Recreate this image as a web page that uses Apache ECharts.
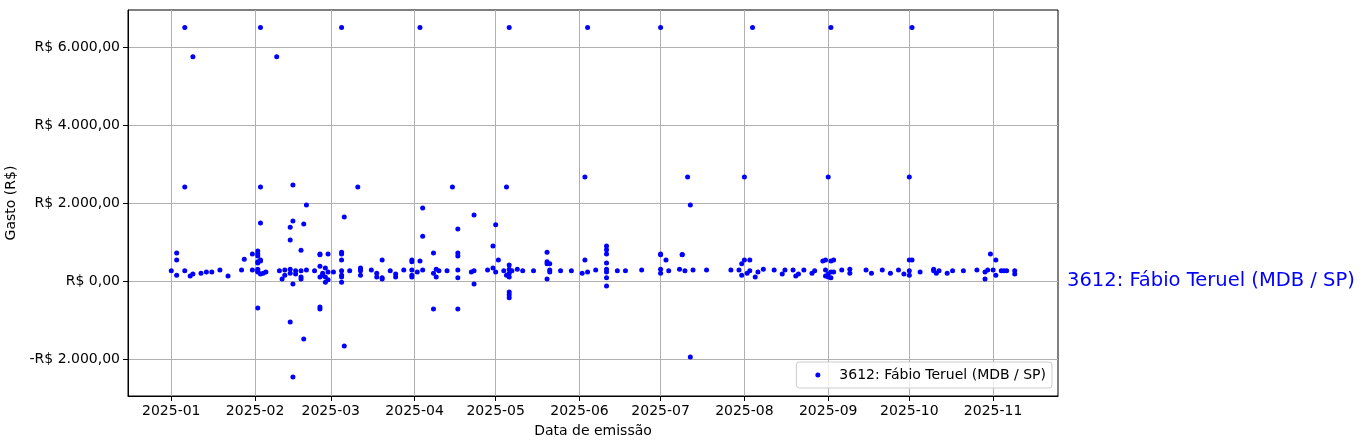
<!DOCTYPE html>
<html>
<head>
<meta charset="utf-8">
<script src="https://cdn.jsdelivr.net/npm/echarts@6/dist/echarts.min.js"></script>
<style>html,body{margin:0;padding:0;background:#fff}#c{width:1364px;height:448px}</style>
</head>
<body>
<div id="c"></div>
<script>
const serieNome = '3612: Fábio Teruel (MDB / SP)';
const xTickLabels = ['2025-01','2025-02','2025-03','2025-04','2025-05','2025-06','2025-07','2025-08','2025-09','2025-10','2025-11'];
const yTickValues = [-2000, 0, 2000, 4000, 6000];
const xRange = ['2024-12-16', '2025-11-25'];
const yRange = [-2950, 6950];

// [day of month, value R$] per month of 2025
const jan = [[1,260],[3,720],[3,540],[3,150],[6,6500],[6,2410],[6,260],[8,130],[9,180],[9,5750],[12,200],[14,230],[16,230],[19,280],[22,130],[27,280],[28,560],[31,690],[31,280]];
const fev = [[2,770],[2,690],[2,640],[2,490],[2,460],[2,300],[2,250],[2,230],[2,-690],[3,6500],[3,2410],[3,1490],[3,540],[3,510],[3,180],[4,200],[5,230],[9,5750],[10,260],[11,50],[12,280],[12,150],[14,1380],[14,1050],[14,300],[14,200],[14,-1050],[15,2460],[15,1540],[15,-80],[15,-2460],[16,260],[16,180],[18,790],[18,260],[18,100],[18,50],[19,1460],[19,-1490],[20,1950],[20,280],[23,260],[25,690],[25,670],[25,380],[25,100],[25,-670],[25,-720],[26,200],[26,150],[27,330],[27,100],[27,-30],[28,690],[28,230],[28,30]];
const mar = [[2,230],[5,6500],[5,740],[5,690],[5,540],[5,260],[5,150],[5,100],[5,-30],[6,1640],[6,-1670],[8,260],[11,2410],[12,330],[12,300],[12,260],[12,150],[16,280],[18,200],[18,100],[20,540],[20,80],[20,50],[23,260],[25,100],[25,180],[28,280],[31,490],[31,540],[31,280],[31,150],[31,100]];
const abr = [[2,230],[3,6500],[3,510],[4,1870],[4,1150],[4,280],[8,720],[8,200],[8,-720],[9,300],[9,100],[10,260],[13,260],[15,2410],[17,1330],[17,720],[17,640],[17,280],[17,80],[17,-720],[22,230],[23,1690],[23,260],[23,-80],[28,280],[30,900],[30,330]];
const mai = [[1,1440],[1,230],[2,540],[4,260],[5,2410],[5,150],[6,6500],[6,410],[6,300],[6,200],[6,100],[6,-280],[6,-350],[6,-430],[7,260],[9,300],[11,260],[15,260],[20,740],[20,490],[20,440],[20,50],[21,440],[21,280],[21,230],[25,260],[29,260]];
const jun = [[2,200],[3,2670],[3,540],[4,6500],[4,230],[7,280],[11,900],[11,800],[11,690],[11,460],[11,300],[11,230],[11,80],[11,-130],[15,260],[18,260],[24,280]];
const jul = [[1,6500],[1,690],[1,670],[1,300],[1,200],[3,540],[4,260],[8,300],[9,670],[9,680],[10,260],[11,2670],[12,1950],[12,-1950],[13,280],[18,280],[27,280],[30,280],[31,440],[31,150]];
const ago = [[1,2670],[1,540],[2,200],[3,540],[3,260],[4,6500],[5,100],[6,230],[8,300],[12,280],[15,180],[16,280],[19,280],[20,130],[21,180],[23,280],[26,200],[27,260],[30,510],[31,540],[31,280],[31,130]];
const set = [[1,2670],[1,100],[1,180],[2,6500],[2,230],[2,80],[2,510],[3,540],[3,230],[6,280],[9,300],[9,200],[15,280],[17,200],[21,280],[24,200],[27,280],[29,180]];
const out = [[1,2670],[1,540],[1,260],[1,150],[2,6500],[2,540],[5,230],[10,300],[10,260],[11,200],[12,260],[15,200],[17,260],[21,260],[26,280],[29,230],[29,50],[30,280],[31,690]];
const nov = [[1,280],[2,540],[2,150],[4,260],[5,260],[6,260],[9,260],[9,180]];

const meses = [jan, fev, mar, abr, mai, jun, jul, ago, set, out, nov];
const data = [];
meses.forEach((m, i) => m.forEach(([d, v]) => data.push([Date.UTC(2025, i, d), v])));

const toTs = s => Date.parse(s + 'T00:00:00Z');
const xTickValues = xTickLabels.map(s => toTs(s + '-01'));

function brl(v) {
  const a = Math.abs(v).toFixed(2).split('.');
  const intp = a[0].replace(/\B(?=(\d{3})+(?!\d))/g, '.');
  return (v < 0 ? '-' : '') + 'R$ ' + intp + ',' + a[1];
}
function ym(v) {
  const d = new Date(v);
  return d.getUTCFullYear() + '-' + String(d.getUTCMonth() + 1).padStart(2, '0');
}

const FONT = 'DejaVu Sans';
const chart = echarts.init(document.getElementById('c'), null, {renderer: 'canvas'});
const option = {
  animation: false,
  backgroundColor: '#fff',
  textStyle: {fontFamily: FONT},
  grid: {left: 128, right: 306, top: 10, bottom: 52, show: true, borderColor: '#000', borderWidth: 1, backgroundColor: 'transparent', containLabel: false, outerBoundsMode: 'none'},
  legend: {
    right: 312, bottom: 60,
    orient: 'horizontal',
    padding: [6, 6, 6, 19],
    itemWidth: 33, itemHeight: 5, itemGap: 0,
    icon: 'circle',
    borderColor: '#cccccc', borderWidth: 1, borderRadius: 3,
    backgroundColor: 'rgba(255,255,255,0.8)',
    textStyle: {fontFamily: FONT, fontSize: 14, color: '#000'},
    data: [serieNome]
  },
  xAxis: {
    type: 'value',
    min: toTs(xRange[0]), max: toTs(xRange[1]),
    name: 'Data de emissão', nameLocation: 'middle', nameGap: 28,
    nameTextStyle: {fontFamily: FONT, fontSize: 14, color: '#000'},
    axisLine: {show: true, onZero: false, lineStyle: {color: '#000', width: 1}},
    axisTick: {show: true, length: 5, lineStyle: {color: '#000'}, customValues: xTickValues},
    axisLabel: {show: true, customValues: xTickValues, formatter: v => ym(v), color: '#000', fontSize: 14, fontFamily: FONT, margin: 8, hideOverlap: false},
    splitLine: {show: true, lineStyle: {color: '#b0b0b0', width: 1}}
  },
  yAxis: {
    type: 'value',
    min: yRange[0], max: yRange[1],
    name: 'Gasto (R$)', nameLocation: 'middle', nameGap: 105, nameRotate: 90,
    nameTextStyle: {fontFamily: FONT, fontSize: 14, color: '#000'},
    axisLine: {show: true, onZero: false, lineStyle: {color: '#000', width: 1}},
    axisTick: {show: true, length: 5, lineStyle: {color: '#000'}, customValues: yTickValues},
    axisLabel: {show: true, customValues: yTickValues, formatter: v => brl(v), color: '#000', fontSize: 14, fontFamily: FONT, margin: 8},
    splitLine: {show: true, lineStyle: {color: '#b0b0b0', width: 1}}
  },
  series: [{
    name: serieNome,
    type: 'scatter',
    data: data,
    symbol: 'circle',
    symbolSize: 5,
    itemStyle: {color: '#0000ff', opacity: 1},
    emphasis: {disabled: true}
  }]
};
chart.setOption(option);
const y0 = chart.convertToPixel({yAxisIndex: 0}, 0);
const xr = chart.convertToPixel({xAxisIndex: 0}, toTs(xRange[1]));
chart.setOption({
  graphic: [{
    type: 'text', x: xr + 9, y: y0,
    style: {text: serieNome, fill: '#0000ff', fontFamily: FONT, fontSize: 19.5, verticalAlign: 'middle', align: 'left'}
  }]
});
</script>
</body>
</html>
